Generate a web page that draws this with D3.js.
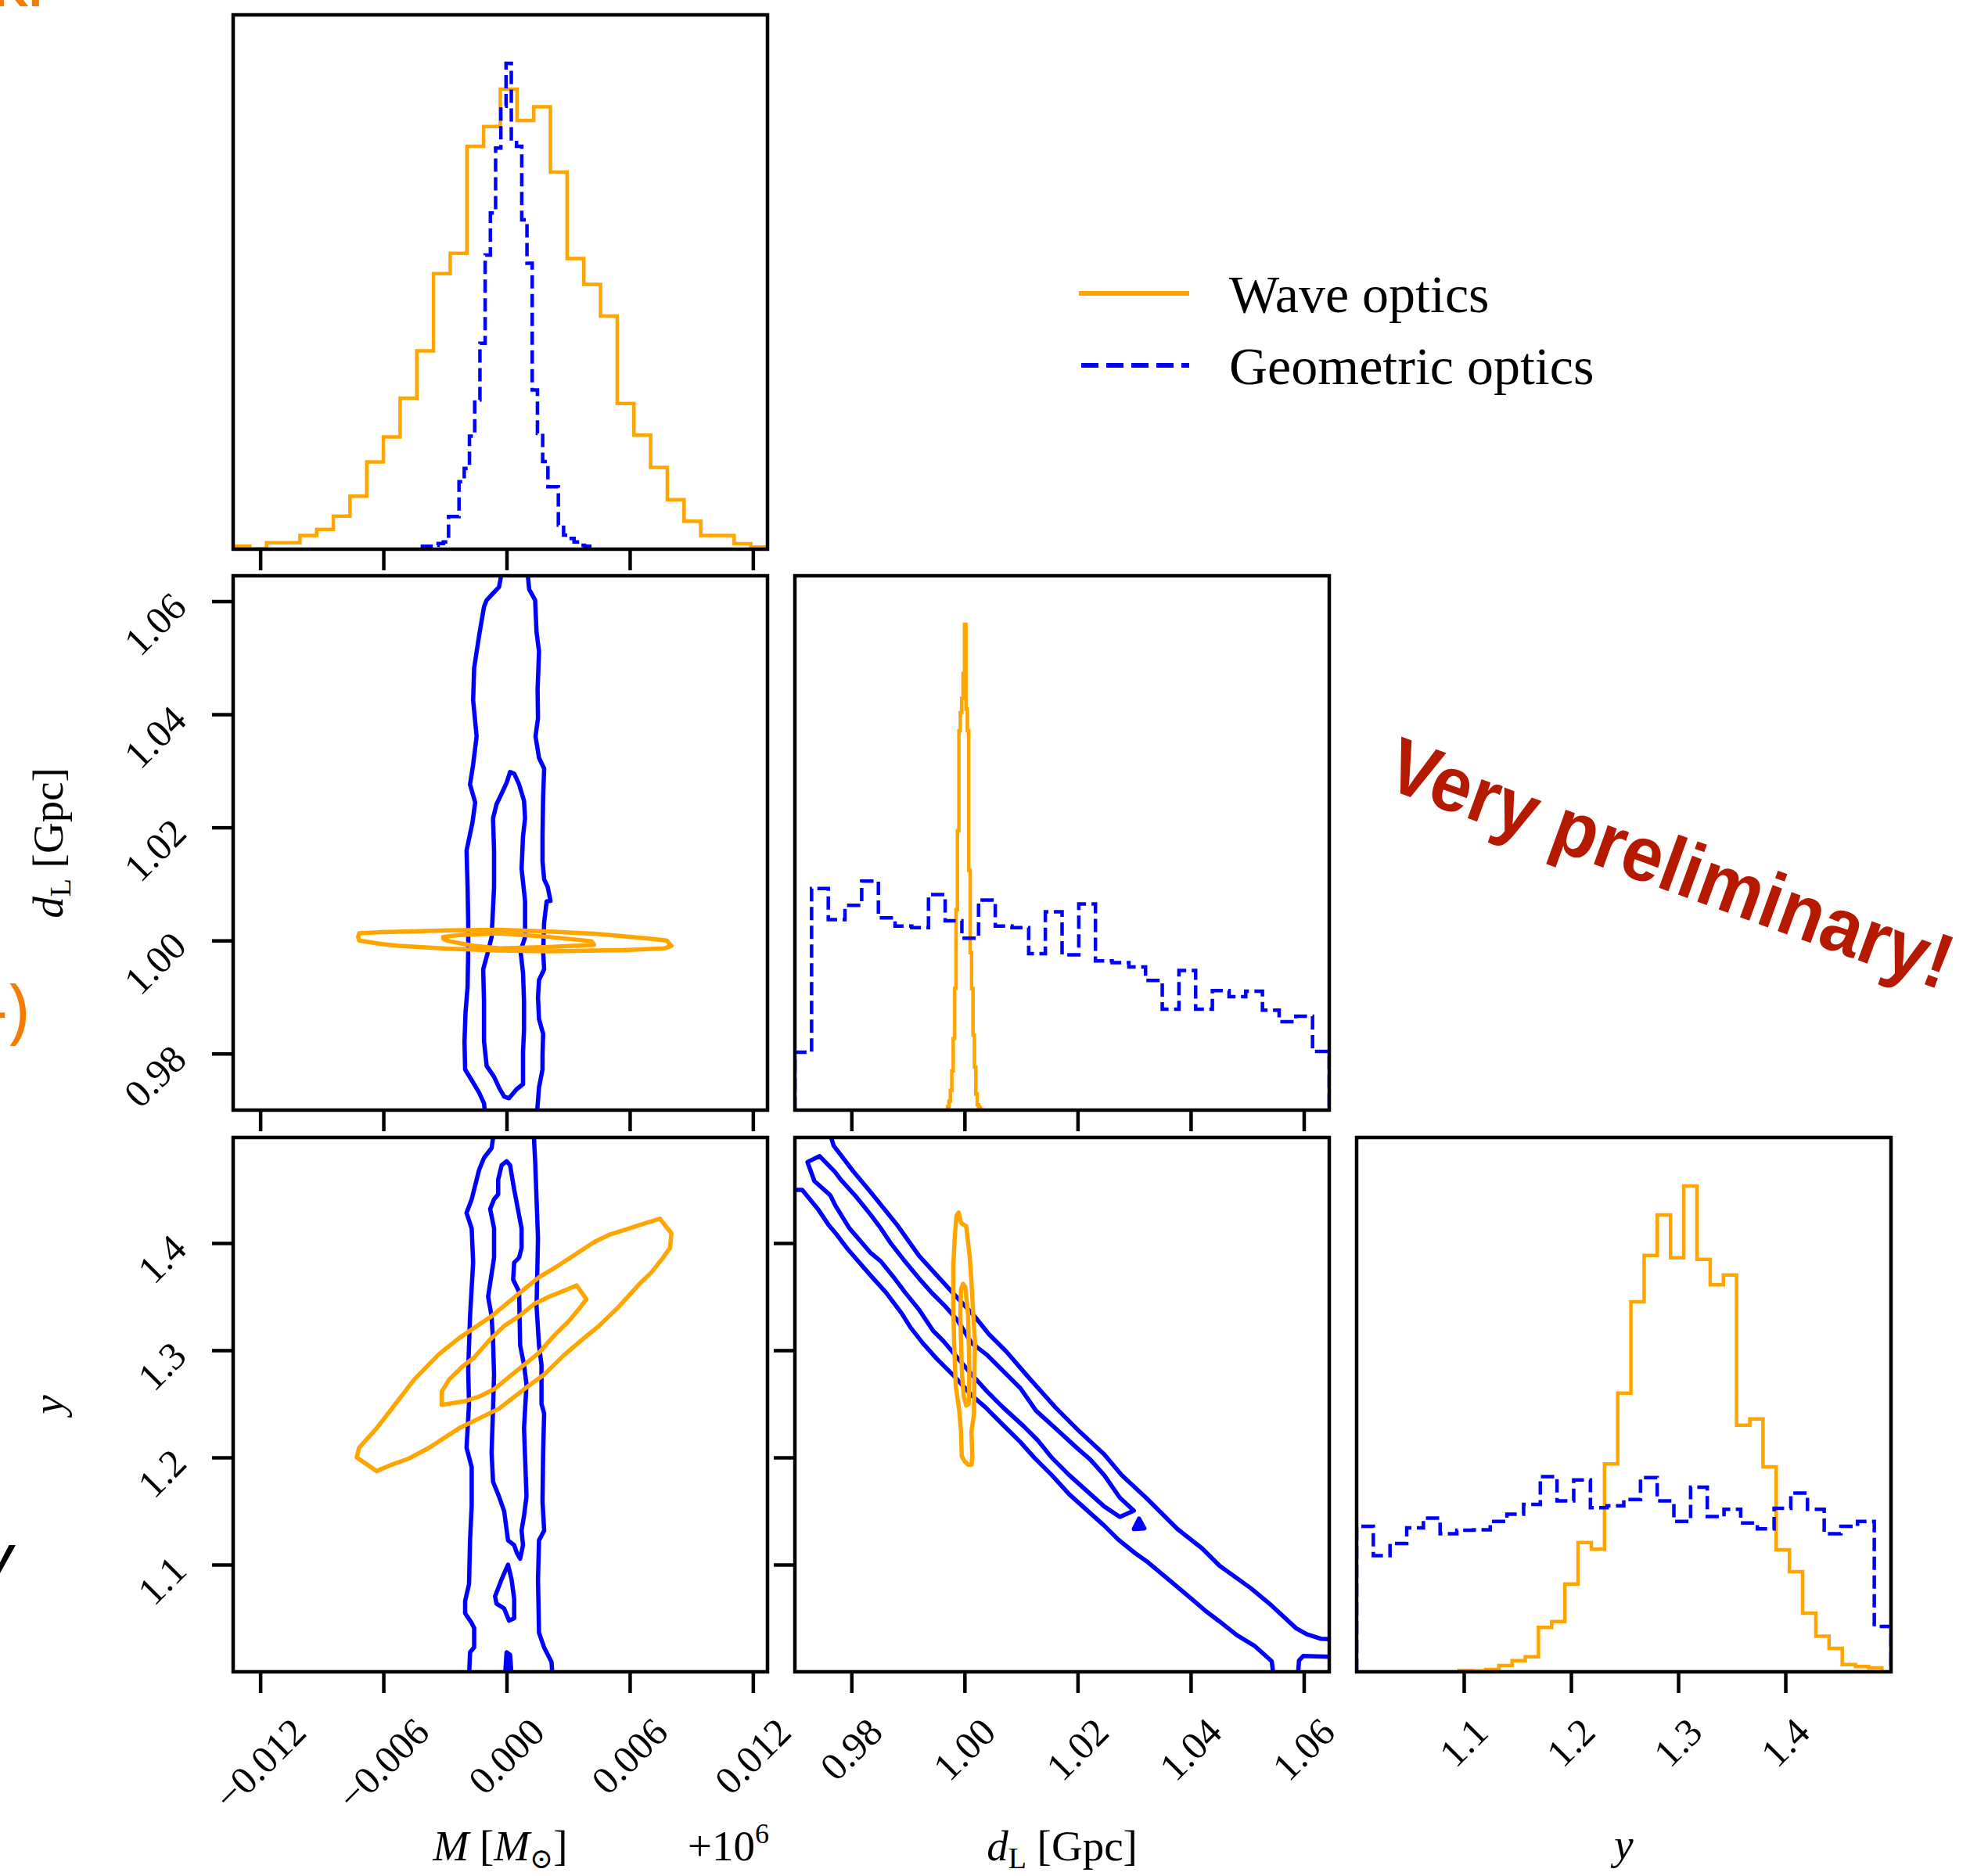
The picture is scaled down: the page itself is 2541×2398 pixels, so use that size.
<!DOCTYPE html>
<html lang="en">
<head>
<meta charset="UTF-8">
<title>corner plot</title>
<script src="https://cdn.jsdelivr.net/npm/d3@7"></script>
<style>
  body { margin: 0; background: #fff; }
  svg { display: block; }
  .tick-lab { font-family: "Liberation Serif", "DejaVu Serif", serif; font-size: 50px; fill: #000; }
  .ax-lab { font-family: "Liberation Serif", "DejaVu Serif", serif; font-size: 55px; fill: #000; }
  .leg-lab { font-family: "Liberation Serif", "DejaVu Serif", serif; font-size: 68px; fill: #000; }
  .stamp { font-family: "Liberation Sans", Arial, sans-serif; font-weight: bold; font-size: 100px; fill: #b51a00; }
</style>
</head>
<body>
<div id="root"></div>
<script>
// ---- axis ranges and ticks ----
const mRange = [-0.01332, 0.01271]      // M - 1e6  [M_sun]
const dRange = [0.9700, 1.0645]         // d_L [Gpc]
const yRange = [1.0, 1.4985]            // y
const mTicks = [-0.012, -0.006, 0, 0.006, 0.012]
const dTicks = [0.98, 1.00, 1.02, 1.04, 1.06]
const yTicks = [1.1, 1.2, 1.3, 1.4]

// ---- 1D histograms (counts, equal bins over the given range) ----
const mWaveRange = [-0.01332, 0.01271]
const mWaveCounts = [8, 1, 18, 18, 38, 55, 92, 148, 243, 313, 421, 553, 768, 825, 1123, 1178, 1282, 1195, 1233, 1051, 810, 738, 650, 406, 318, 228, 138, 78, 38, 38, 15, 6]
const mGeoRange = [-0.0041, 0.00405]
const mGeoCounts = [8, 8, 11, 16, 20, 91, 91, 188, 225, 315, 416, 574, 820, 937, 1118, 1235, 1354, 1144, 1123, 918, 797, 444, 323, 244, 174, 174, 67, 39, 30, 20, 11, 8]

const dWaveRange = [0.997, 1.003]
const dWaveCounts = [10, 25, 55, 110, 200, 340, 560, 780, 1060, 1110, 1150, 1220, 1357, 1120, 1060, 670, 440, 340, 210, 120, 45, 15, 8, 3]
const dGeoRange = [0.9700, 1.0645]
const dGeoCounts = [162, 619, 532, 572, 640, 537, 514, 510, 602, 529, 480, 587, 514, 510, 437, 554, 434, 576, 417, 412, 400, 362, 282, 390, 282, 334, 317, 332, 279, 247, 262, 164]

const yWaveRange = [1.0957, 1.490]
const yWaveCounts = [3, 2, 5, 13, 23, 31, 91, 103, 180, 265, 251, 426, 571, 758, 853, 936, 848, 995, 845, 793, 813, 505, 518, 420, 250, 205, 120, 73, 48, 15, 11, 8]
const yGeoRange = [1.0, 1.4985]
const yGeoCounts = [298, 238, 263, 295, 315, 283, 290, 291, 308, 323, 343, 400, 350, 393, 336, 340, 353, 398, 350, 308, 378, 318, 333, 305, 293, 335, 366, 333, 283, 298, 308, 93]

// ---- 2D contours, [x, y] in data units ----
// M vs d_L
const mdGeoOuterL = [[-0.00027,1.066],[-0.00029,1.0640],[-0.00037,1.0625],[-0.00097,1.0602],[-0.00110,1.0590],[-0.00134,1.0539],[-0.00158,1.0482],[-0.00163,1.0425],[-0.00146,1.0361],[-0.00163,1.0311],[-0.00178,1.0276],[-0.00153,1.0244],[-0.00166,1.0209],[-0.00195,1.0159],[-0.00190,1.0095],[-0.00187,1.0032],[-0.00187,0.9981],[-0.00190,0.9918],[-0.00200,0.9873],[-0.00205,0.9822],[-0.00202,0.9772],[-0.00170,0.9753],[-0.00134,0.9731],[-0.00110,0.9712],[-0.00100,0.968]]
const mdGeoOuterR = [[0.00104,1.066],[0.00105,1.0640],[0.00110,1.0621],[0.00139,1.0602],[0.00146,1.0545],[0.00158,1.0511],[0.00151,1.0444],[0.00153,1.0393],[0.00141,1.0361],[0.00158,1.0323],[0.00183,1.0304],[0.00178,1.0254],[0.00175,1.0184],[0.00175,1.0140],[0.00183,1.0108],[0.00200,1.0095],[0.00214,1.0070],[0.00195,1.0069],[0.00183,1.0032],[0.00178,0.9981],[0.00183,0.9949],[0.00158,0.9930],[0.00153,0.9899],[0.00158,0.9861],[0.00178,0.9835],[0.00175,0.9797],[0.00175,0.9772],[0.00158,0.9740],[0.00145,0.968]]
const mdGeoInner = [[0.00017,1.0298],[0.00037,1.0295],[0.00061,1.0276],[0.00085,1.0247],[0.00090,1.0216],[0.00080,1.0184],[0.00073,1.0127],[0.00090,1.0070],[0.00090,1.0006],[0.00068,0.9981],[0.00080,0.9943],[0.00085,0.9892],[0.00085,0.9842],[0.00080,0.9803],[0.00080,0.9746],[0.00049,0.9737],[0.00012,0.9721],[-0.00012,0.9724],[-0.00037,0.9740],[-0.00061,0.9759],[-0.00097,0.9778],[-0.00110,0.9822],[-0.00110,0.9892],[-0.00114,0.9949],[-0.00090,0.9981],[-0.00073,1.0006],[-0.00061,1.0095],[-0.00061,1.0159],[-0.00066,1.0216],[-0.00049,1.0241],[-0.00024,1.0260],[0.0,1.0279]]
const mdWaveOuter = [[-0.00718,1.00127],[-0.00621,1.00146],[-0.00280,1.00178],[-0.00037,1.0019],[0.00207,1.00159],[0.00450,1.00114],[0.00694,1.00032],[0.00779,1.0],[0.00803,0.99905],[0.00767,0.9986],[0.00572,0.99829],[0.00207,0.9981],[-0.00037,0.99822],[-0.00280,0.99854],[-0.00523,0.99905],[-0.00609,0.99937],[-0.00718,1.0],[-0.00723,1.00063]]
const mdWaveInner = [[-0.00309,1.00063],[-0.00231,1.00095],[-0.00037,1.00127],[0.00207,1.00063],[0.00414,0.99987],[0.00426,0.99924],[0.00207,0.99886],[-0.00037,0.9986],[-0.00158,0.99905],[-0.00280,0.99987],[-0.00309,1.00032]]

// M vs y
const myGeoOuterL = [[-0.00061,1.505],[-0.00068,1.4954],[-0.00073,1.4886],[-0.00110,1.4795],[-0.00134,1.4682],[-0.00170,1.4409],[-0.00195,1.4282],[-0.00170,1.4136],[-0.00163,1.3818],[-0.00178,1.3318],[-0.00187,1.2818],[-0.00183,1.25],[-0.00195,1.2091],[-0.00170,1.1909],[-0.00170,1.1546],[-0.00178,1.1227],[-0.00183,1.0818],[-0.00202,1.0659],[-0.00202,1.0546],[-0.00170,1.0455],[-0.00158,1.0409],[-0.00158,1.0228],[-0.00178,1.0182],[-0.00183,0.995]]
const myGeoOuterR = [[0.00134,1.505],[0.00134,1.4954],[0.00139,1.4773],[0.00146,1.4409],[0.00153,1.4045],[0.00146,1.3409],[0.00158,1.3045],[0.00170,1.2864],[0.00170,1.25],[0.00183,1.2409],[0.00178,1.2045],[0.00175,1.1591],[0.00183,1.1318],[0.00158,1.1227],[0.00153,1.0864],[0.00158,1.0364],[0.00183,1.0227],[0.00219,1.0091],[0.00224,0.995]]
const myGeoInner = [[0,1.4763],[0.00017,1.4727],[0.00037,1.45],[0.00073,1.4136],[0.00073,1.3955],[0.00061,1.3864],[0.00037,1.3818],[0.00032,1.3659],[0.00061,1.3545],[0.00066,1.3045],[0.00085,1.2864],[0.00097,1.2682],[0.00085,1.2273],[0.00097,1.1636],[0.00085,1.1455],[0.00073,1.1318],[0.0008,1.1182],[0.00066,1.1055],[0.00049,1.1114],[0.00037,1.1182],[0.00007,1.1227],[-0.00012,1.15],[-0.00037,1.1636],[-0.00066,1.1773],[-0.00073,1.2045],[-0.00066,1.2455],[-0.00061,1.2773],[-0.00066,1.3091],[-0.00073,1.3318],[-0.0009,1.35],[-0.00061,1.3864],[-0.00061,1.4136],[-0.0008,1.4318],[-0.00061,1.4409],[-0.00041,1.4455],[-0.00041,1.4591],[-0.00024,1.4727]]
const myGeoInner2 = [[0.00007,1.1],[0.00024,1.0864],[0.00037,1.0682],[0.00037,1.05],[0.00012,1.0477],[-0.00012,1.0591],[-0.00049,1.0636],[-0.00056,1.0705],[-0.00024,1.0864]]
const myGeoBlob = [[0,1.0182],[0.00017,1.0159],[0.00024,0.998],[-0.00007,0.998]]
const myWaveOuter = [[0.00747,1.4227],[0.00803,1.4091],[0.00796,1.3955],[0.00762,1.3864],[0.00706,1.3727],[0.00645,1.3614],[0.00548,1.3409],[0.0045,1.3227],[0.00377,1.3114],[0.0028,1.2955],[0.00183,1.2773],[0.00085,1.2636],[-0.00037,1.2455],[-0.00134,1.2364],[-0.00231,1.2273],[-0.00377,1.2091],[-0.00475,1.1991],[-0.0056,1.1932],[-0.00633,1.1873],[-0.0073,1.2],[-0.00718,1.2091],[-0.00633,1.2273],[-0.00523,1.2545],[-0.0045,1.2727],[-0.00329,1.2964],[-0.00231,1.3114],[-0.00073,1.3318],[0.00085,1.3568],[0.00158,1.3682],[0.00256,1.3795],[0.00426,1.4009],[0.00499,1.4077],[0.00596,1.4136],[0.00669,1.4182]]
const myWaveInner = [[0.00341,1.3605],[0.00389,1.3477],[0.00353,1.3386],[0.00304,1.3273],[0.00231,1.3136],[0.00158,1.2977],[0.00085,1.2864],[0.00012,1.275],[-0.00061,1.2636],[-0.00134,1.2568],[-0.00207,1.2523],[-0.00316,1.2491],[-0.00316,1.2614],[-0.0028,1.2727],[-0.00219,1.2841],[-0.00158,1.2932],[-0.00085,1.3091],[-0.00012,1.3227],[0.00061,1.3318],[0.00134,1.3432],[0.00207,1.35],[0.0028,1.3555]]

// d_L vs y
const dyGeoOuterUpper = [[0.97623,1.5016],[0.97685,1.4909],[0.98024,1.4675],[0.98333,1.448],[0.98827,1.4156],[0.99197,1.388],[0.99506,1.3701],[0.99815,1.3523],[1.00185,1.3312],[1.00432,1.3149],[1.00741,1.2987],[1.01111,1.276],[1.01605,1.2468],[1.02037,1.224],[1.0247,1.2029],[1.02778,1.1835],[1.0321,1.1624],[1.03766,1.1332],[1.04198,1.1153],[1.04507,1.0991],[1.05063,1.078],[1.05433,1.0617],[1.05865,1.0406],[1.0605,1.0351],[1.06297,1.0309],[1.0655,1.0303]]
const dyGeoOuterLower = [[0.9690,1.4496],[0.97129,1.4496],[0.97407,1.4318],[0.97592,1.4172],[0.97747,1.4074],[0.97932,1.3945],[0.98333,1.3701],[0.98611,1.3539],[0.98889,1.3344],[0.99043,1.3214],[0.99259,1.3068],[0.99506,1.2922],[0.99815,1.276],[1.00123,1.2581],[1.0037,1.2468],[1.00679,1.2305],[1.00988,1.2143],[1.01235,1.1997],[1.01544,1.1835],[1.01852,1.1656],[1.02161,1.151],[1.0247,1.1364],[1.02717,1.1234],[1.03025,1.1104],[1.03241,1.1023],[1.03643,1.0845],[1.04013,1.0682],[1.0426,1.0569],[1.04507,1.0471],[1.04816,1.0342],[1.05124,1.0244],[1.05433,1.0098],[1.05464,0.9968]]
const dyGeoCorner = [[1.05896,0.9968],[1.05915,1.0105],[1.05989,1.0147],[1.0655,1.014]]
const dyGeoInner = [[0.97438,1.4811],[0.97716,1.4659],[0.97808,1.4594],[0.98086,1.4431],[0.98333,1.4269],[0.98518,1.4139],[0.98703,1.3993],[0.9892,1.3847],[0.99197,1.3669],[0.99444,1.3523],[0.9966,1.3409],[0.99877,1.3279],[1.00123,1.3068],[1.00401,1.2955],[1.00772,1.276],[1.00988,1.2646],[1.01266,1.2435],[1.01605,1.2273],[1.01976,1.2094],[1.02223,1.1981],[1.0247,1.1835],[1.02747,1.1624],[1.02994,1.1504],[1.02747,1.1445],[1.0247,1.1543],[1.02161,1.1689],[1.01852,1.1835],[1.01544,1.1997],[1.01297,1.2159],[1.0105,1.2289],[1.00679,1.2468],[1.00401,1.2614],[1.00123,1.2776],[0.99938,1.289],[0.9963,1.3084],[0.99444,1.3182],[0.99197,1.3377],[0.9895,1.3539],[0.98765,1.3669],[0.98518,1.3831],[0.98333,1.3912],[0.97963,1.4139],[0.97716,1.435],[0.97623,1.4448],[0.97345,1.4578],[0.97222,1.4756]]
const dyGeoBlob = [[1.02994,1.1332],[1.03087,1.1429],[1.0318,1.1338]]
const dyWaveOuter = [[0.99895,1.4285],[0.99938,1.4188],[1.00031,1.4156],[1.00093,1.3863],[1.00123,1.3636],[1.00154,1.3344],[1.00185,1.3084],[1.00173,1.2695],[1.00167,1.2403],[1.00123,1.224],[1.00136,1.2013],[1.00123,1.1932],[1.00062,1.1932],[1.0,1.1965],[0.99951,1.2013],[0.99938,1.224],[0.99907,1.2435],[0.99846,1.2662],[0.99815,1.3084],[0.99802,1.3409],[0.99802,1.3799],[0.99827,1.4058],[0.99858,1.4253]]
const dyWaveInner = [[0.99975,1.362],[1.00012,1.3588],[1.00062,1.3344],[1.00074,1.3084],[1.00086,1.2825],[1.00074,1.25],[1.00031,1.2484],[0.99988,1.2565],[0.99957,1.276],[0.99938,1.3084],[0.99926,1.3344],[0.99938,1.3571]]

const legendNames = ['Wave optics', 'Geometric optics']

// ---- layout ----
const width = 2541, height = 2398
const size = 683
const colX = [298, 1016, 1734]
const rowY = [19, 736, 1454]
const waveColor = 'orange'
const geoColor = 'blue'
const tickFont = 50

const svg = d3.select('#root').append('svg').attr('width', width).attr('height', height)

const xM = d3.scaleLinear().domain(mRange).range([0, size])
const xD = d3.scaleLinear().domain(dRange).range([0, size])
const xY = d3.scaleLinear().domain(yRange).range([0, size])
const yD = d3.scaleLinear().domain(dRange).range([size, 0])
const yY = d3.scaleLinear().domain(yRange).range([size, 0])

const fmtM = t => (t < 0 ? '\u2212' : '') + Math.abs(t).toFixed(3)
const fmtD = t => t.toFixed(2)
const fmtY = t => t.toFixed(1)

const makePanel = (col, row) => {
    const id = `clip${row}${col}`
    const g = svg.append('g').attr('transform', `translate(${colX[col]},${rowY[row]})`)
    g.append('clipPath').attr('id', id).append('rect').attr('width', size).attr('height', size)
    const inner = g.append('g').attr('clip-path', `url(#${id})`)
    return { g, inner }
}

const styleAxis = sel => {
    sel.select('.domain').remove()
    sel.selectAll('.tick line').attr('stroke', '#000').attr('stroke-width', 4.5)
    sel.selectAll('.tick text').remove()
}

const bottomTicks = (g, scale, ticks) => {
    g.append('g').attr('transform', `translate(0,${size})`)
        .call(d3.axisBottom(scale).tickValues(ticks).tickSize(27))
        .call(styleAxis)
}

const leftTicks = (g, scale, ticks) => {
    g.append('g')
        .call(d3.axisLeft(scale).tickValues(ticks).tickSize(27))
        .call(styleAxis)
}

const bottomLabels = (g, scale, ticks, fmt) => {   // rotated 45, bbox centred on tick
    ticks.forEach(t => {
        const txt = g.append('text').attr('class', 'tick-lab').attr('text-anchor', 'end').text(fmt(t))
        const L = txt.node().getComputedTextLength()
        const ex = scale(t) + 0.707 * (L + 0.66 * tickFont) / 2
        txt.attr('transform', `translate(${ex},${size + 80}) rotate(-45)`)
    })
}

const leftLabels = (g, scale, ticks, fmt) => {
    ticks.forEach(t => {
        g.append('text').attr('class', 'tick-lab').attr('text-anchor', 'end').text(fmt(t))
            .attr('transform', `translate(-57,${scale(t) + 10}) rotate(-45)`)
    })
}

const border = g => g.append('rect').attr('width', size).attr('height', size)
    .attr('fill', 'none').attr('stroke', '#000').attr('stroke-width', 4.5)

const histPath = (counts, range, x, y) => {
    const n = counts.length
    const edges = d3.range(n + 1).map(i => range[0] + (range[1] - range[0]) * i / n)
    const pts = [[edges[0], 0]]
    counts.forEach((c, i) => { pts.push([edges[i], c]); pts.push([edges[i + 1], c]) })
    pts.push([edges[n], 0])
    return d3.line().x(d => x(d[0])).y(d => y(d[1]))(pts)
}

const drawHist = (inner, x, wave, geo) => {
    const ymax = 1.1 * d3.max(wave.counts.concat(geo.counts))
    const y = d3.scaleLinear().domain([0, ymax]).range([size, 0])
    inner.append('path').attr('d', histPath(wave.counts, wave.range, x, y))
        .attr('fill', 'none').attr('stroke', waveColor).attr('stroke-width', 4.5)
    inner.append('path').attr('d', histPath(geo.counts, geo.range, x, y))
        .attr('fill', 'none').attr('stroke', geoColor).attr('stroke-width', 4.5)
        .attr('stroke-dasharray', '17,7')
}

const drawContour = (inner, pts, x, y, color, closed, filled) => {
    const line = d3.line().x(d => x(d[0])).y(d => y(d[1]))
        .curve(closed ? d3.curveLinearClosed : d3.curveLinear)
    inner.append('path').attr('d', line(pts))
        .attr('fill', filled ? color : 'none')
        .attr('stroke', color).attr('stroke-width', 5.5)
        .attr('stroke-linejoin', 'round')
}

// ---- row 0: M histogram ----
let p = makePanel(0, 0)
drawHist(p.inner, xM, { counts: mWaveCounts, range: mWaveRange }, { counts: mGeoCounts, range: mGeoRange })
bottomTicks(p.g, xM, mTicks)
border(p.g)

// ---- row 1 ----
p = makePanel(0, 1)
drawContour(p.inner, mdGeoOuterL, xM, yD, geoColor, false)
drawContour(p.inner, mdGeoOuterR, xM, yD, geoColor, false)
drawContour(p.inner, mdGeoInner, xM, yD, geoColor, true)
drawContour(p.inner, mdWaveOuter, xM, yD, waveColor, true)
drawContour(p.inner, mdWaveInner, xM, yD, waveColor, true)
bottomTicks(p.g, xM, mTicks)
leftTicks(p.g, yD, dTicks)
leftLabels(p.g, yD, dTicks, fmtD)
border(p.g)

p = makePanel(1, 1)
drawHist(p.inner, xD, { counts: dWaveCounts, range: dWaveRange }, { counts: dGeoCounts, range: dGeoRange })
bottomTicks(p.g, xD, dTicks)
border(p.g)

// ---- row 2 ----
p = makePanel(0, 2)
drawContour(p.inner, myGeoOuterL, xM, yY, geoColor, false)
drawContour(p.inner, myGeoOuterR, xM, yY, geoColor, false)
drawContour(p.inner, myGeoInner, xM, yY, geoColor, true)
drawContour(p.inner, myGeoInner2, xM, yY, geoColor, true)
drawContour(p.inner, myGeoBlob, xM, yY, geoColor, true, true)
drawContour(p.inner, myWaveOuter, xM, yY, waveColor, true)
drawContour(p.inner, myWaveInner, xM, yY, waveColor, true)
bottomTicks(p.g, xM, mTicks)
bottomLabels(p.g, xM, mTicks, fmtM)
leftTicks(p.g, yY, yTicks)
leftLabels(p.g, yY, yTicks, fmtY)
border(p.g)

p = makePanel(1, 2)
drawContour(p.inner, dyGeoOuterUpper, xD, yY, geoColor, false)
drawContour(p.inner, dyGeoOuterLower, xD, yY, geoColor, false)
drawContour(p.inner, dyGeoCorner, xD, yY, geoColor, false)
drawContour(p.inner, dyGeoInner, xD, yY, geoColor, true)
drawContour(p.inner, dyGeoBlob, xD, yY, geoColor, true, true)
drawContour(p.inner, dyWaveOuter, xD, yY, waveColor, true)
drawContour(p.inner, dyWaveInner, xD, yY, waveColor, true)
bottomTicks(p.g, xD, dTicks)
bottomLabels(p.g, xD, dTicks, fmtD)
leftTicks(p.g, yY, yTicks)
border(p.g)

p = makePanel(2, 2)
drawHist(p.inner, xY, { counts: yWaveCounts, range: yWaveRange }, { counts: yGeoCounts, range: yGeoRange })
bottomTicks(p.g, xY, yTicks)
bottomLabels(p.g, xY, yTicks, fmtY)
border(p.g)

// ---- axis labels ----
const labY = 2378
const lab = svg.append('g')
let t = lab.append('text').attr('class', 'ax-lab').attr('text-anchor', 'middle').attr('x', colX[0] + size / 2).attr('y', labY)
t.append('tspan').attr('font-style', 'italic').text('M')
t.append('tspan').text(' [')
t.append('tspan').attr('font-style', 'italic').text('M')
t.append('tspan').attr('font-size', 36).attr('dy', 10).text('\u2299')
t.append('tspan').attr('dy', -10).text(']')

t = lab.append('text').attr('class', 'ax-lab').attr('text-anchor', 'end').attr('x', colX[0] + size + 2).attr('y', labY)
t.append('tspan').text('+10')
t.append('tspan').attr('font-size', 36).attr('dy', -22).text('6')

const dLabel = (sel) => {
    sel.append('tspan').attr('font-style', 'italic').text('d')
    sel.append('tspan').attr('font-size', 38).attr('dy', 10).text('L')
    sel.append('tspan').attr('dy', -10).text(' [Gpc]')
}
dLabel(lab.append('text').attr('class', 'ax-lab').attr('text-anchor', 'middle').attr('x', colX[1] + size / 2).attr('y', labY))
lab.append('text').attr('class', 'ax-lab').attr('text-anchor', 'middle').attr('font-style', 'italic')
    .attr('x', colX[2] + size / 2).attr('y', labY - 2).text('y')

dLabel(lab.append('text').attr('class', 'ax-lab').attr('text-anchor', 'middle')
    .attr('transform', `translate(80,${rowY[1] + size / 2}) rotate(-90)`))
lab.append('text').attr('class', 'ax-lab').attr('text-anchor', 'middle').attr('font-style', 'italic')
    .attr('transform', `translate(80,${rowY[2] + size / 2}) rotate(-90)`).text('y')

// ---- legend ----
const leg = svg.append('g')
leg.append('line').attr('x1', 1379).attr('x2', 1520).attr('y1', 375).attr('y2', 375)
    .attr('stroke', waveColor).attr('stroke-width', 6)
leg.append('line').attr('x1', 1382).attr('x2', 1520).attr('y1', 467).attr('y2', 467)
    .attr('stroke', geoColor).attr('stroke-width', 6).attr('stroke-dasharray', '22,10')
leg.append('text').attr('class', 'leg-lab').attr('x', 1571).attr('y', 399).text(legendNames[0])
leg.append('text').attr('class', 'leg-lab').attr('x', 1571).attr('y', 491).text(legendNames[1])

// ---- stamp ----
svg.append('text').attr('class', 'stamp').attr('text-anchor', 'middle')
    .attr('textLength', 760).attr('lengthAdjust', 'spacingAndGlyphs')
    .attr('transform', 'translate(2124,1136) rotate(20)').text('Very preliminary!')

// ---- slide fragments cut off at the left edge ----
svg.append('text').attr('x', -8).attr('y', 8).attr('fill', '#f57c00')
    .style('font', 'bold 62px "Liberation Sans", sans-serif').text('KI')
svg.append('text').attr('x', 37).attr('y', 1322).attr('text-anchor', 'end').attr('fill', '#f57c00')
    .style('font', '92px "Open Sans", sans-serif').text('-)')
svg.append('text').attr('x', 16).attr('y', 2013).attr('text-anchor', 'end').attr('fill', '#000')
    .style('font', 'bold italic 56px "Liberation Sans", sans-serif').text('V')
</script>
</body>
</html>
